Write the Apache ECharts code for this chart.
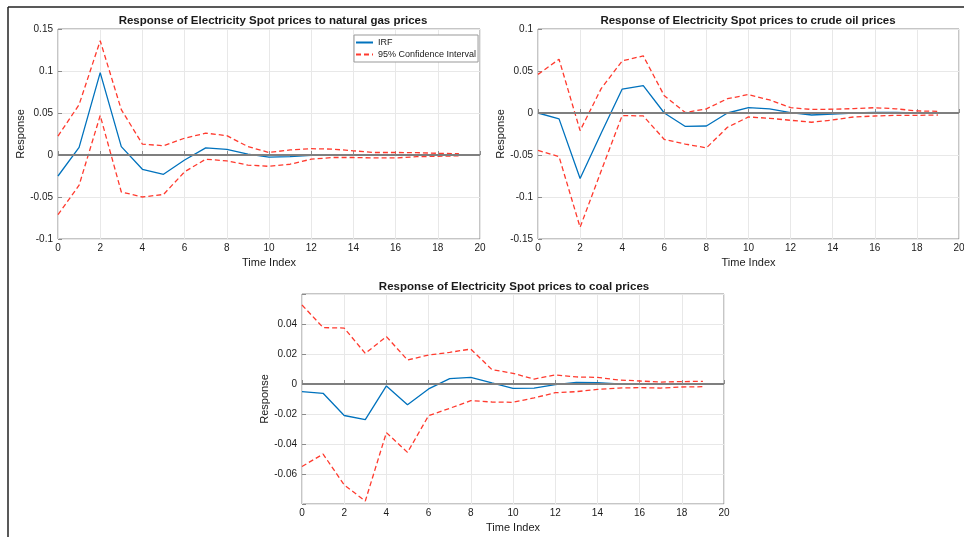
<!DOCTYPE html>
<html lang="en">
<head>
    <meta charset="UTF-8">
    <title>IRF</title>
    <style>
        html, body { margin: 0; padding: 0; background: #fff; }
        #main { width: 964px; height: 539px; }
    </style>
    <script src="https://cdn.jsdelivr.net/npm/echarts@6/dist/echarts.min.js"></script>
</head>
<body>
<div id="main"></div>
<script>
    // time steps of the impulse response
    var timeIndex = [0, 1, 2, 3, 4, 5, 6, 7, 8, 9, 10, 11, 12, 13, 14, 15, 16, 17, 18, 19];

    // natural gas
    var gasIRF   = [-0.025, 0.009, 0.098, 0.010, -0.017, -0.023, -0.006, 0.0085, 0.0068, 0.001, -0.0025, -0.002, -0.0005, 0.0005, 0.0005, 0.0003, 0.0001, 0, 0, 0];
    var gasUpper = [0.0225, 0.060, 0.136, 0.054, 0.013, 0.011, 0.020, 0.026, 0.023, 0.010, 0.003, 0.006, 0.0075, 0.007, 0.005, 0.003, 0.003, 0.0028, 0.002, 0.0015];
    var gasLower = [-0.071, -0.036, 0.047, -0.044, -0.050, -0.047, -0.020, -0.005, -0.007, -0.012, -0.0135, -0.011, -0.005, -0.003, -0.003, -0.0035, -0.0035, -0.002, -0.0015, -0.001];

    // crude oil
    var oilIRF   = [0, -0.007, -0.078, -0.024, 0.0285, 0.0325, 0, -0.016, -0.0155, 0, 0.0065, 0.0048, 0.0004, -0.0024, -0.0012, 0, 0.0008, 0.0008, 0, 0];
    var oilUpper = [0.046, 0.064, -0.021, 0.029, 0.062, 0.068, 0.0205, 0.0005, 0.005, 0.017, 0.022, 0.0155, 0.0065, 0.0042, 0.0045, 0.0052, 0.0063, 0.005, 0.0025, 0.002];
    var oilLower = [-0.0445, -0.052, -0.136, -0.069, -0.003, -0.0035, -0.0315, -0.037, -0.0415, -0.017, -0.0047, -0.0063, -0.0087, -0.011, -0.0083, -0.0047, -0.0036, -0.0028, -0.0028, -0.0024];

    // coal
    var coalIRF   = [-0.0051, -0.0062, -0.021, -0.0238, -0.0013, -0.0138, -0.0033, 0.0036, 0.0044, 0.0007, -0.0029, -0.0027, -0.0004, 0.0011, 0.0009, 0, -0.0003, -0.0002, -0.0001, 0.0001];
    var coalUpper = [0.0527, 0.0376, 0.0373, 0.0204, 0.0316, 0.016, 0.0193, 0.0211, 0.0233, 0.0096, 0.0071, 0.0033, 0.006, 0.0047, 0.0044, 0.0027, 0.002, 0.0013, 0.0016, 0.0018];
    var coalLower = [-0.055, -0.0467, -0.0673, -0.078, -0.0324, -0.0456, -0.0211, -0.0162, -0.0111, -0.012, -0.0122, -0.0093, -0.0058, -0.0051, -0.0036, -0.0027, -0.0024, -0.0027, -0.002, -0.0018];

    var titles = [
        'Response of Electricity Spot prices to natural gas prices',
        'Response of Electricity Spot prices to crude oil prices',
        'Response of Electricity Spot prices to coal prices'
    ];
    var yRanges = [[-0.1, 0.15, 0.05], [-0.15, 0.1, 0.05], [-0.08, 0.06, 0.02]];

    var FONT = "'Liberation Sans', Arial, sans-serif";
    var TXT = '#1a1a1a';
    var BOX = '#8c8c8c';
    var GRIDC = '#e8e8e8';

    function pairs(arr) {
        return timeIndex.map(function (t, i) { return [t, arr[i]]; });
    }

    var chart = echarts.init(document.getElementById('main'));

    var grids = [
        {left: 58, top: 29, width: 422, height: 210},
        {left: 538, top: 29, width: 421, height: 210},
        {left: 302, top: 294, width: 422, height: 210}
    ];

    var xAxes = [], yAxes = [], series = [];
    grids.forEach(function (g, k) {
        g.show = true;
        g.borderColor = BOX;
        g.borderWidth = 1;
        g.backgroundColor = '#fff';
        g.containLabel = false;
        g.outerBoundsMode = 'none';

        xAxes.push({
            type: 'value', gridIndex: k, min: 0, max: 20, interval: 2,
            name: 'Time Index', nameLocation: 'middle', nameGap: 18,
            nameTextStyle: {fontFamily: FONT, fontSize: 11, color: TXT},
            axisLine: {show: false},
            axisTick: {show: true, inside: true, length: 4, lineStyle: {color: BOX}},
            axisLabel: {fontFamily: FONT, fontSize: 10, color: TXT, margin: 4},
            splitLine: {show: true, lineStyle: {color: GRIDC}}
        });

        var r = yRanges[k];
        yAxes.push({
            type: 'value', gridIndex: k, min: r[0], max: r[1], interval: r[2],
            name: 'Response', nameLocation: 'middle', nameGap: 30,
            nameTextStyle: {fontFamily: FONT, fontSize: 11, color: TXT},
            axisLine: {show: false},
            axisTick: {show: true, inside: true, length: 4, lineStyle: {color: BOX}},
            axisLabel: {
                fontFamily: FONT, fontSize: 10, color: TXT, margin: 5,
                formatter: function (v) {
                    if (k === 2 && (v < -0.079 || v > 0.059)) return '';
                    return String(Number(v.toFixed(3)));
                }
            },
            splitLine: {show: true, lineStyle: {color: GRIDC}}
        });
    });

    var sets = [[gasIRF, gasUpper, gasLower], [oilIRF, oilUpper, oilLower], [coalIRF, coalUpper, coalLower]];
    sets.forEach(function (s, k) {
        series.push({
            name: 'IRF', type: 'line', xAxisIndex: k, yAxisIndex: k,
            data: pairs(s[0]), symbol: 'none', z: 3,
            lineStyle: {color: '#0072BD', width: 1.3},
            itemStyle: {color: '#0072BD'},
            markLine: {
                silent: true, symbol: 'none', label: {show: false},
                lineStyle: {color: '#7f7f7f', width: 2, type: 'solid'},
                data: [{yAxis: 0}]
            }
        });
        [s[1], s[2]].forEach(function (band) {
            series.push({
                name: '95% Confidence Interval', type: 'line', xAxisIndex: k, yAxisIndex: k,
                data: pairs(band), symbol: 'none', z: 2,
                lineStyle: {color: '#ff3a2e', width: 1.3, type: [5, 3]},
                itemStyle: {color: '#ff3a2e'}
            });
        });
    });

    var option = {
        animation: false,
        backgroundColor: '#fff',
        title: [
            {text: titles[0], left: 273, top: 15, textAlign: 'center', padding: 0,
                textStyle: {fontFamily: FONT, fontSize: 11.5, fontWeight: 'bold', color: TXT}},
            {text: titles[1], left: 748, top: 15, textAlign: 'center', padding: 0,
                textStyle: {fontFamily: FONT, fontSize: 11.5, fontWeight: 'bold', color: TXT}},
            {text: titles[2], left: 514, top: 281, textAlign: 'center', padding: 0,
                textStyle: {fontFamily: FONT, fontSize: 11.5, fontWeight: 'bold', color: TXT}}
        ],
        legend: {
            data: ['IRF', '95% Confidence Interval'],
            orient: 'vertical', left: 354, top: 35,
            itemWidth: 17, itemHeight: 9, itemGap: 3,
            padding: [3, 2, 3, 1],
            borderColor: '#999', borderWidth: 1, borderRadius: 0,
            backgroundColor: '#fff',
            itemStyle: {opacity: 0, borderWidth: 0},
            textStyle: {fontFamily: FONT, fontSize: 9, color: TXT}
        },
        grid: grids,
        xAxis: xAxes,
        yAxis: yAxes,
        series: series,
        graphic: [
            {type: 'line', shape: {x1: 8, y1: 7, x2: 964, y2: 7}, style: {stroke: '#222', lineWidth: 1.5}, silent: true},
            {type: 'line', shape: {x1: 8, y1: 7, x2: 8, y2: 537}, style: {stroke: '#222', lineWidth: 1.5}, silent: true}
        ]
    };

    chart.setOption(option);

    window.onresize = function () {
        chart.resize();
    };
</script>
</body>
</html>
